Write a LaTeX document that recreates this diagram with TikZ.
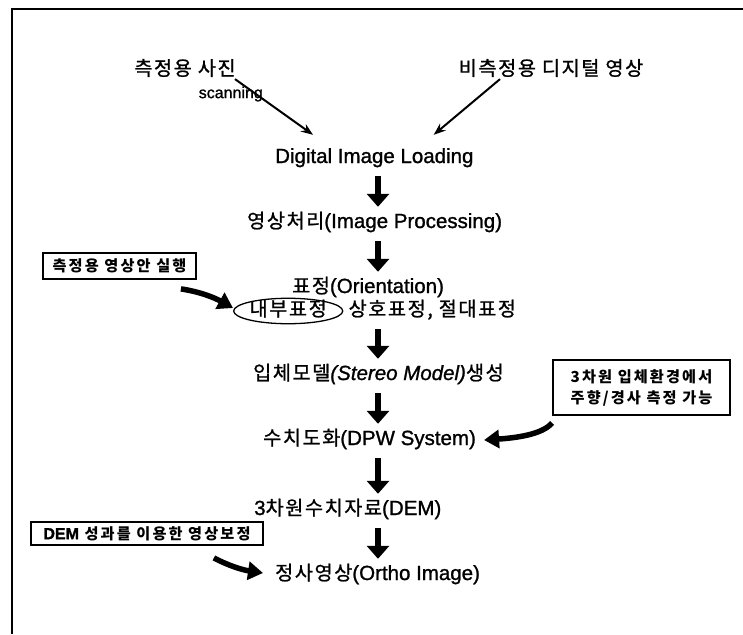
\documentclass[tikz,border=0pt]{standalone}
\usepackage{fontspec}
\setmainfont{Liberation Sans}[FakeBold=1.2]
\newfontfamily\krf{Noto Sans CJK KR}[Scale=0.96,LetterSpace=8,FakeBold=1.0]
\newfontfamily\krb{Noto Sans CJK KR}[Scale=0.95,LetterSpace=14]
\usetikzlibrary{arrows.meta,shapes.geometric}
\begin{document}
\begin{tikzpicture}[x=1pt,y=-1pt,
  every node/.style={inner sep=0pt},
  mtxt/.style={font=\fontsize{20.5}{24}\selectfont, text height=14pt, text depth=4pt, anchor=west},
  ttl/.style={font=\fontsize{20.5}{24}\selectfont\krf},
  nbox/.style={draw, line width=1.8pt, font=\fontsize{16}{21}\selectfont\krb\bfseries, align=center},
  downarr/.style={line width=6pt, -{Triangle[width=22pt,length=13pt]}, shorten <=9pt, shorten >=7pt},
  thinarr/.style={line width=2pt, -{Stealth[width=9pt,length=12pt]}},
  swoosh/.style={line width=5.5pt, -{Triangle[width=18pt,length=15pt]}},
  ring/.style={draw, ellipse, line width=1.3pt, inner xsep=0pt, inner ysep=0pt, anchor=west,
     font=\fontsize{20.5}{24}\selectfont\krf, text height=14pt, text depth=4pt}
]
\useasboundingbox (0,0) rectangle (743,634);
\draw[line width=2pt] (12,634) -- (12,9) -- (743,9);
\coordinate (ax) at (378,0);

\node[ttl] (t1) at (185,68) {측정용 사진};
\node[ttl] (t2) at (551,68) {비측정용 디지털 영상};

\node[mtxt] (dil) at (275,158) {Digital Image Loading};
\node[mtxt] (ip) at (247,223) {{\krf 영상처리}(Image Processing)};
\node[mtxt] (or) at (292,288) {{\krf 표정}(Orientation)};
\node[ring] (inner) at (233,311) {내부표정};
\node[mtxt] (l2) at ([xshift=5pt]inner.east) {{\krf 상호표정, 절대표정}};
\node[mtxt] (st) at (253,375) {{\krf 입체모델}{\itshape (Stereo Model)}{\krf 생성}};
\node[mtxt] (dpw) at (263,440) {{\krf 수치도화}(DPW System)};
\node[mtxt] (dem) at (254,510) {3{\krf 차원수치자료}(DEM)};
\node[mtxt] (ort) at (275,575) {{\krf 정사영상}(Ortho Image)};

\node[font=\fontsize{16}{18}\selectfont, anchor=east] (scan) at (263,94) {scanning};

\node[nbox, minimum width=153pt, minimum height=26pt] (b1) at (119.5,266) {측정용 영상안 실행};
\node[nbox, minimum width=177pt, minimum height=55pt] (b2) at (641.5,387.5) {3차원 입체환경에서\\주향/경사 측정 가능};
\node[nbox, minimum width=232pt, minimum height=23pt] (b3) at (147,533.5) {{\rmfamily DEM} 성과를 이용한 영상보정};

\draw[thinarr] ([xshift=50pt,yshift=-2pt]t1.south) -- ([xshift=38pt,yshift=14pt]dil.north west);
\draw[thinarr] ([xshift=-51pt,yshift=-2pt]t2.south) -- ([xshift=-40pt,yshift=14pt]dil.north east);

\draw[downarr] (dil.south -| ax) -- (ip.north -| ax);
\draw[downarr] (ip.south -| ax) -- (or.north -| ax);
\draw[downarr] (l2.south -| ax) -- (st.north -| ax);
\draw[downarr] (st.south -| ax) -- (dpw.north -| ax);
\draw[downarr] (dpw.south -| ax) -- (dem.north -| ax);
\draw[downarr] (dem.south -| ax) -- (ort.north -| ax);

\draw[swoosh] ([xshift=-16pt,yshift=-9pt]b1.south east) .. controls +(20,3) and +(-18,-10) .. ([yshift=3pt]inner.west);
\draw[swoosh] ([yshift=-7pt]b2.south west) .. controls +(-10,12) and +(30,-2) .. ([xshift=8pt]dpw.east);
\draw[swoosh] ([xshift=-50pt,yshift=-12pt]b3.south east) .. controls +(15,8) and +(-20,-3) .. ([xshift=-12pt,yshift=2pt]ort.west);
\end{tikzpicture}
\end{document}
